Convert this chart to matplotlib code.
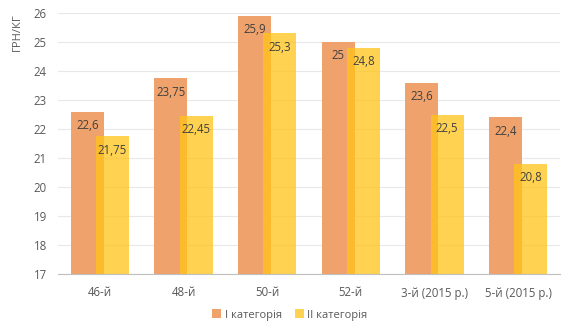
import numpy as np
import matplotlib.pyplot as plt

plt.rcParams['font.family'] = ['Open Sans', 'DejaVu Sans']

periods = ["46-й", "48-й", "50-й", "52-й", "3-й (2015 р.)", "5-й (2015 р.)"]
cat1 = [22.6, 23.75, 25.9, 25.0, 23.6, 22.4]
cat2 = [21.75, 22.45, 25.3, 24.8, 22.5, 20.8]
series_names = ["І категорія", "ІІ категорія"]

fig = plt.figure(figsize=(5.72, 3.34), dpi=100)
ax = fig.add_axes([58 / 572, 1 - 274 / 334, 502 / 572, 261 / 334])

x = np.arange(len(periods))
w = 0.395
off = 0.15
base = 17

b1 = ax.bar(x - off, np.array(cat1) - base, w, bottom=base,
            color="#F0A26C", label=series_names[0], zorder=2)
b2 = ax.bar(x + off, np.array(cat2) - base, w, bottom=base,
            color="#FFC41A", alpha=0.76, label=series_names[1], zorder=3)


def fmt(v):
    s = ("%g" % v).replace(".", ",")
    return s


for xi, v in zip(x - off, cat1):
    ax.text(xi, v - 0.48, fmt(v), ha="center", va="center",
            fontsize=8.3, color="#404040", zorder=5)
for xi, v in zip(x + off, cat2):
    ax.text(xi, v - 0.48, fmt(v), ha="center", va="center",
            fontsize=8.3, color="#404040", zorder=5)

ax.set_xlim(-0.5, len(periods) - 0.5)
ax.set_ylim(17, 26)
ax.set_yticks(range(17, 27))
ax.set_xticks(x)
ax.set_xticklabels(periods)
ax.tick_params(axis="both", length=0, labelsize=8.3, colors="#595959")
ax.tick_params(axis="y", pad=8)
ax.tick_params(axis="x", pad=9)

ax.grid(axis="y", color="#E8E8E8", linewidth=0.8, zorder=0)
ax.set_axisbelow(True)
for s in ["top", "right", "left"]:
    ax.spines[s].set_visible(False)
ax.spines["bottom"].set_color("#BFBFBF")
ax.spines["bottom"].set_zorder(6)

ax.set_ylabel("ГРН/КГ", loc="top", fontsize=8, color="#595959", labelpad=8)

leg = fig.legend(loc="center", bbox_to_anchor=(290 / 572, 1 - 315 / 334),
                 ncol=2, frameon=False, fontsize=8, handlelength=0.8,
                 handleheight=0.8, handletextpad=0.3, columnspacing=1.2)
for t in leg.get_texts():
    t.set_color("#595959")

fig.savefig("out.png", dpi=100)
